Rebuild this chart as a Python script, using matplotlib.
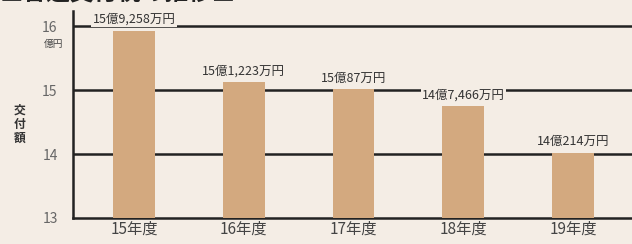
import matplotlib
matplotlib.use("Agg")
import matplotlib.pyplot as plt

plt.rcParams['font.family'] = ['Noto Sans CJK JP', 'DejaVu Sans']

categories = ["15年度", "16年度", "17年度", "18年度", "19年度"]
values = [15.9258, 15.1223, 15.0087, 14.7466, 14.0214]
value_labels = ["15億9,258万円", "15億1,223万円", "15億87万円", "14億7,466万円", "14億214万円"]
yticks = [13, 14, 15, 16]

bg = "#f4ede5"
bar_color = "#d3a97f"

fig = plt.figure(figsize=(6.32, 2.44), dpi=100, facecolor=bg)
ax = fig.add_axes([0.1155, 0.1066, 0.8845, 0.847])
ax.set_facecolor(bg)

x = list(range(len(categories)))
ax.bar(x, [v - 13 for v in values], bottom=13, width=0.38, color=bar_color, zorder=3)

for yv in yticks[1:]:
    ax.axhline(yv, color="#222222", lw=1.8, zorder=1)

ax.set_xlim(-0.556, 4.538)
ax.set_ylim(13, 16.23)

for xi, v, lab in zip(x, values, value_labels):
    ax.annotate(lab, (xi, v), xytext=(0, 3.5), textcoords="offset points",
                ha="center", va="bottom", fontsize=9, color="#333333",
                bbox=dict(boxstyle="square,pad=0.1", fc=bg, ec="none"), zorder=4)

for s in ["top", "right"]:
    ax.spines[s].set_visible(False)
ax.spines["left"].set_linewidth(1.8)
ax.spines["bottom"].set_linewidth(1.8)
ax.spines["left"].set_color("#222222")
ax.spines["bottom"].set_color("#222222")

ax.set_yticks(yticks)
ax.set_yticklabels([str(t) for t in yticks], fontsize=10, color="#666666")
ax.tick_params(axis="y", length=0, pad=11)
ax.set_xticks(x)
ax.set_xticklabels(categories, fontsize=11, color="#444444")
ax.tick_params(axis="x", length=0, pad=2)

fig.text(54 / 632, 1 - 44 / 244, "億円", fontsize=7, color="#444444", ha="center", va="center")
fig.text(20 / 632, 1 - 124 / 244, "交\n付\n額", fontsize=8.5, color="#333333",
         ha="center", va="center", linespacing=1.1, fontweight="bold")
fig.text(0.0, 1 + 1 / 244, "■普通交付税の推移■", fontsize=17, fontweight="bold", color="#222222",
         ha="left", va="baseline")

fig.savefig("out.png", dpi=100, facecolor=bg)
